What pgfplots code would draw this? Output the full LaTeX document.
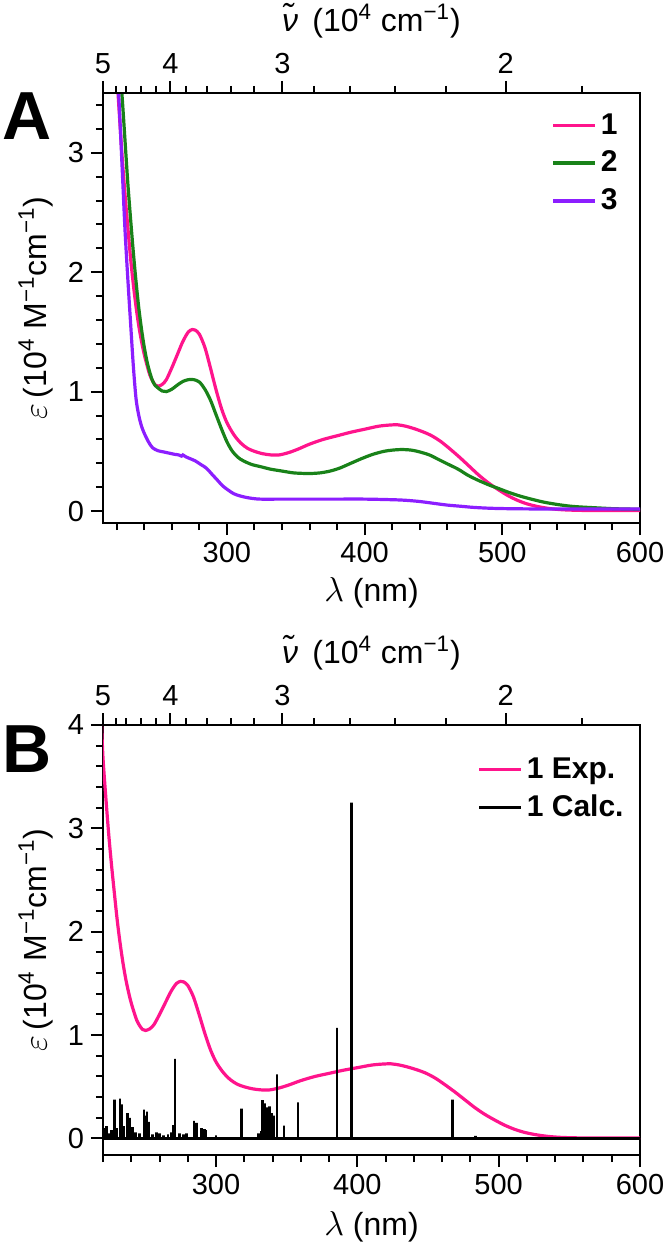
\documentclass[border=0pt]{standalone}
\usepackage{fontspec}
\setmainfont{Liberation Sans}
\usepackage{pgfplots}
\pgfplotsset{compat=1.18}

\definecolor{cpink}{RGB}{255,20,140}
\definecolor{cgreen}{RGB}{25,130,25}
\definecolor{cpurple}{RGB}{140,30,255}

\pgfplotstableread{
x y
219 4.00
220 3.68
222 3.30
224 2.95
226 2.65
228 2.38
230 2.12
232 1.90
234 1.71
236 1.55
238 1.42
240 1.31
242 1.22
244 1.14
246 1.09
248 1.055
250 1.045
253 1.06
256 1.10
260 1.20
264 1.31
268 1.42
272 1.50
275 1.52
277 1.515
280 1.48
284 1.37
288 1.20
292 1.02
296 0.86
300 0.74
305 0.64
310 0.57
315 0.525
320 0.50
326 0.48
332 0.47
338 0.47
345 0.49
352 0.52
360 0.56
370 0.60
380 0.63
390 0.66
400 0.685
410 0.71
418 0.72
424 0.722
430 0.71
436 0.69
442 0.665
448 0.635
455 0.585
462 0.52
469 0.45
476 0.375
483 0.30
490 0.235
497 0.18
504 0.13
511 0.09
518 0.06
526 0.037
535 0.02
545 0.01
560 0.005
580 0.004
600 0.004
}\dataA

\pgfplotstableread{
x y
221 4.00
222 3.75
224 3.45
226 3.10
228 2.75
230 2.45
232 2.17
234 1.92
236 1.70
238 1.52
240 1.37
242 1.25
244 1.16
246 1.09
248 1.05
250 1.03
253 1.005
256 1.00
260 1.02
264 1.055
268 1.085
272 1.10
276 1.10
280 1.08
284 1.02
288 0.93
292 0.81
296 0.69
300 0.58
304 0.50
308 0.45
312 0.42
318 0.39
325 0.37
332 0.35
340 0.335
348 0.32
356 0.315
362 0.315
368 0.32
375 0.335
382 0.36
390 0.40
398 0.44
406 0.475
414 0.50
420 0.51
427 0.515
434 0.51
440 0.495
447 0.47
454 0.43
461 0.39
468 0.35
475 0.30
482 0.26
490 0.22
497 0.19
505 0.155
513 0.125
521 0.10
530 0.075
540 0.055
550 0.04
560 0.032
570 0.026
580 0.02
590 0.017
600 0.015
}\dataB

\pgfplotstableread{
x y
219 4.10
220 3.80
222 3.35
224 2.85
226 2.35
228 1.95
230 1.58
232 1.22
234 0.94
236 0.80
238 0.71
240 0.65
243 0.58
246 0.53
250 0.505
254 0.495
258 0.485
262 0.475
265 0.47
267 0.46
268 0.47
270 0.455
273 0.44
277 0.42
281 0.39
285 0.36
289 0.31
293 0.26
297 0.21
301 0.175
305 0.145
310 0.125
316 0.11
324 0.10
340 0.10
360 0.10
380 0.10
400 0.10
420 0.095
430 0.09
440 0.08
450 0.065
460 0.05
470 0.04
480 0.03
495 0.022
520 0.018
560 0.017
600 0.017
}\dataC

\pgfplotstableread{
x y
220 0
221 0
221 0.10
221 0
222.5 0
222.5 0.12
222.5 0
224 0
224 0.05
224 0
226 0
226 0.08
226 0
228 0
228 0.375
228 0
230 0
230 0.10
230 0
232 0
232 0.385
232 0
233.5 0
233.5 0.33
233.5 0
235 0
235 0.12
235 0
237.5 0
237.5 0.245
237.5 0
239 0
239 0.20
239 0
241 0
241 0.11
241 0
243 0
243 0.06
243 0
246 0
246 0.05
246 0
249 0
249 0.28
249 0
250 0
250 0.22
250 0
251 0
251 0.26
251 0
252.5 0
252.5 0.16
252.5 0
255 0
255 0.04
255 0
258 0
258 0.06
258 0
260 0
260 0.05
260 0
263 0
263 0.03
263 0
266 0
266 0.04
266 0
268 0
268 0.06
268 0
270 0
270 0.13
270 0
271 0
271 0.77
271 0
274 0
274 0.05
274 0
277 0
277 0.04
277 0
279 0
279 0.05
279 0
284.5 0
284.5 0.17
284.5 0
286 0
286 0.15
286 0
289.5 0
289.5 0.10
289.5 0
292 0
292 0.09
292 0
293 0
293 0.08
293 0
300 0
300 0.03
300 0
318 0
318 0.29
318 0
330 0
330 0.05
330 0
332 0
332 0.07
332 0
333 0
333 0.37
333 0
334.5 0
334.5 0.34
334.5 0
336.5 0
336.5 0.30
336.5 0
338 0
338 0.31
338 0
339.6 0
339.6 0.245
339.6 0
341 0
341 0.22
341 0
343 0
343 0.62
343 0
348 0
348 0.125
348 0
358 0
358 0.35
358 0
385.5 0
385.5 1.07
385.5 0
396 0
396 3.25
396 0
467.5 0
467.5 0.375
467.5 0
483.5 0
483.5 0.025
483.5 0
600 0
}\sticks

\pgfplotsset{
  myaxis/.style={
    scale only axis, width=268.5pt, height=215pt,
    anchor=north west,
    xmax=600,
    xtick={300,400,500,600},
    minor xtick={220,240,...,580},
    xtick pos=left, ytick pos=left,
    tick align=outside,
    major tick length=6pt, minor tick length=3.5pt,
    every tick/.style={black, line width=1pt},
    axis line style={line width=1.3pt},
    ticklabel style={font=\fontsize{14.5}{16}\selectfont},
    /pgf/number format/assume math mode=true,
    label style={font=\fontsize{16}{18}\selectfont},
    xlabel={$\lambda$ (nm)},
    ylabel={$\varepsilon$\,(10\textsuperscript{4} M\textsuperscript{−1}cm\textsuperscript{−1})},
    ylabel style={at={(axis description cs:-0.125,0.5)}, anchor=center},
    legend cell align=left,
    legend image code/.code={\draw[##1] (0pt,0pt) -- (21pt,0pt);},
  },
  topaxis/.style={
    scale only axis, width=268.5pt, height=215pt,
    anchor=north west,
    xmin=0, xmax=1, ymin=0, ymax=1,
    axis x line*=top, axis y line=none,
    xtick pos=right, xticklabel pos=right,
    axis line style={-, line width=1.3pt},
    xtick={0,0.1254,0.3341,0.75},
    xticklabels={5,4,3,2},
    minor xtick={0.0238,0.0437,0.0714,0.0992,0.1548,0.1944,0.2381,0.2817,0.3929,0.4603,0.5437,0.6389,0.8929},
    tick align=outside,
    major tick length=6pt, minor tick length=3.5pt,
    every tick/.style={black, line width=1pt},
    ticklabel style={font=\fontsize{14.5}{16}\selectfont},
    label style={font=\fontsize{16}{18}\selectfont},
    xlabel={\textit{ν̃}\, (10\textsuperscript{4} cm\textsuperscript{−1})},
    xlabel style={at={(axis description cs:0.5,1)}, anchor=center, yshift=36pt},
  },
}

\begin{document}
\begin{tikzpicture}
\useasboundingbox (-51.5pt,46.5pt) rectangle (281.5pt,-577.5pt);

% ---------- Panel A ----------
\begin{axis}[myaxis, at={(0pt,0pt)},
  xmin=210, ymin=-0.1, ymax=3.5,
  ytick={0,1,2,3},
  minor ytick={0.2,0.4,0.6,0.8,1.2,1.4,1.6,1.8,2.2,2.4,2.6,2.8,3.2,3.4},
  xlabel style={at={(axis description cs:0.5,0)}, anchor=center, yshift=-35pt},
  legend style={draw=none, fill=none, at={(1,1)}, anchor=north east,
    xshift=-9pt, yshift=-8pt, inner sep=0pt, row sep=3pt,
    font=\bfseries\fontsize{15}{16}\selectfont},
]
\addplot[cpink, line width=1.6pt, smooth] table[x=x,y=y] {\dataA};
\addlegendentry{1}
\addplot[cgreen, line width=1.6pt, smooth] table[x=x,y=y] {\dataB};
\addlegendentry{2}
\addplot[cpurple, line width=1.6pt, smooth] table[x=x,y=y] {\dataC};
\addlegendentry{3}
\end{axis}
\begin{axis}[topaxis, at={(0pt,0pt)}]
\end{axis}

% ---------- Panel B ----------
\begin{axis}[myaxis, at={(0pt,-316pt)},
  xmin=220, ymin=-0.16, ymax=4,
  ytick={0,1,2,3,4},
  minor ytick={0.2,0.4,0.6,0.8,1.2,1.4,1.6,1.8,2.2,2.4,2.6,2.8,3.2,3.4,3.6,3.8},
  xlabel style={at={(axis description cs:0.5,0)}, anchor=center, yshift=-36pt},
  legend style={draw=none, fill=none, at={(1,1)}, anchor=north east,
    xshift=-6pt, yshift=-14pt, inner sep=0pt, row sep=3pt,
    font=\bfseries\fontsize{15}{16}\selectfont},
]
\addplot[cpink, line width=1.6pt, smooth] table[x=x,y=y] {\dataA};
\addlegendentry{1 Exp.}
\addplot[black, line width=1.3pt] table[x=x,y=y] {\sticks};
\addlegendentry{1 Calc.}
\end{axis}
\begin{axis}[topaxis, at={(0pt,-316pt)}]
\end{axis}

\node[font=\bfseries\fontsize{34}{34}\selectfont] at (-38pt,-11.5pt) {A};
\node[font=\bfseries\fontsize{34}{34}\selectfont] at (-38pt,-328pt) {B};
\end{tikzpicture}
\end{document}
